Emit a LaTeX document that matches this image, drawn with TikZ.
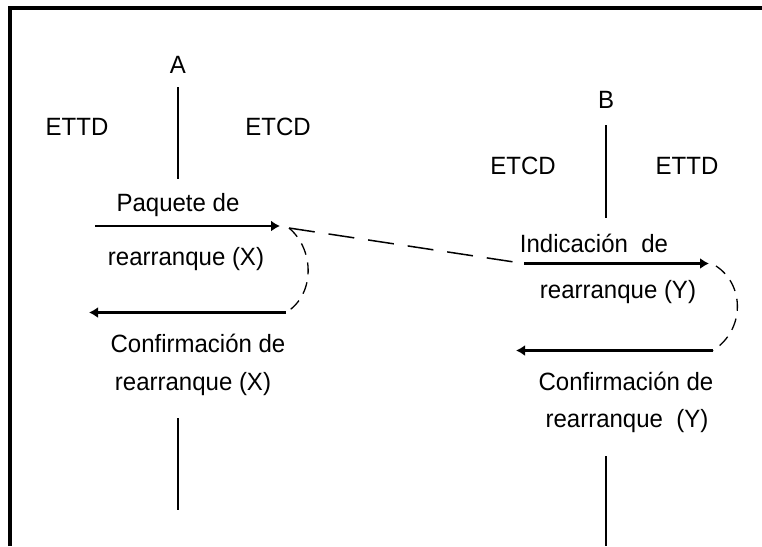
\documentclass[tikz,border=0pt]{standalone}
\usepackage{fontspec}
\setmainfont[FakeStretch=0.96]{Liberation Sans}
\usetikzlibrary{arrows.meta, positioning}
\tikzstyle{lbl}=[inner sep=0pt,anchor=base,font=\fontsize{25}{29}\selectfont]
\tikzstyle{msg}=[line width=2.4pt,-{Latex[length=9pt,width=11pt]}]
\tikzstyle{life}=[line width=1.5pt]
\tikzstyle{echo}=[line width=1.3pt,dash pattern=on 12pt off 8pt]
\tikzstyle{link}=[line width=1.5pt,dash pattern=on 26pt off 14pt]

\begin{document}
\begin{tikzpicture}[x=1pt,y=-1pt]
    \useasboundingbox (0,0) rectangle (762,546);
    \coordinate (fb) at (10,546); \coordinate (fc) at (10,8); \coordinate (fr) at (762,8);
    \draw[line width=4pt] (fb) -- (fc) -- (fr);
    % stations and sides
    \foreach \n/\x/\y/\t in {A/178/73/A, B/606/108/B, la/77/135/ETTD, ra/278/135/ETCD, lb/523/174/ETCD, rb/687/174/ETTD} {
        \node[lbl] (\n) at (\x,\y) {\t};}
    % messages
    \foreach \n/\x/\y/\t in {paq/178/211/Paquete de, paqr/186/265/rearranque (X), cfx/198/352/Confirmación de, cfxr/193/390/rearranque (X), ind/594/252/Indicación\ \ de, indr/618/298/rearranque (Y), cfy/626/390/Confirmación de, cfyr/627/427/rearranque\ \ (Y)} {
        \node[lbl] (\n) at (\x,\y) {\t};}
    % life lines
    \foreach \n/\x/\ya/\yb in {a1/178/87/179, a2/178/418/510, b1/606/125/218, b2/606/456/546} {
        \coordinate (\n s) at (\x,\ya);
        \coordinate (\n e) at (\x,\yb);
        \draw[life] (\n s) -- (\n e);}
    % arrows
    \foreach \n/\xa/\xb/\y in {m1/95/280/226, m2/286/89/312.5, m3/524/709/263.5, m4/713/516/350.5} {
        \coordinate (\n s) at (\xa,\y);
        \coordinate (\n e) at (\xb,\y);
        \draw[msg] (\n s) -- (\n e);}
    % turnarounds
    \coordinate (tx) at (289,228); \coordinate (ty) at (716,266);
    \draw[echo] (tx) .. controls (315,250) and (315,295) .. (m2s);
    \draw[echo] (ty) .. controls (745,285) and (745,330) .. (m4s);
    \draw[link] (tx) -- (m3s);
\end{tikzpicture}
\end{document}
